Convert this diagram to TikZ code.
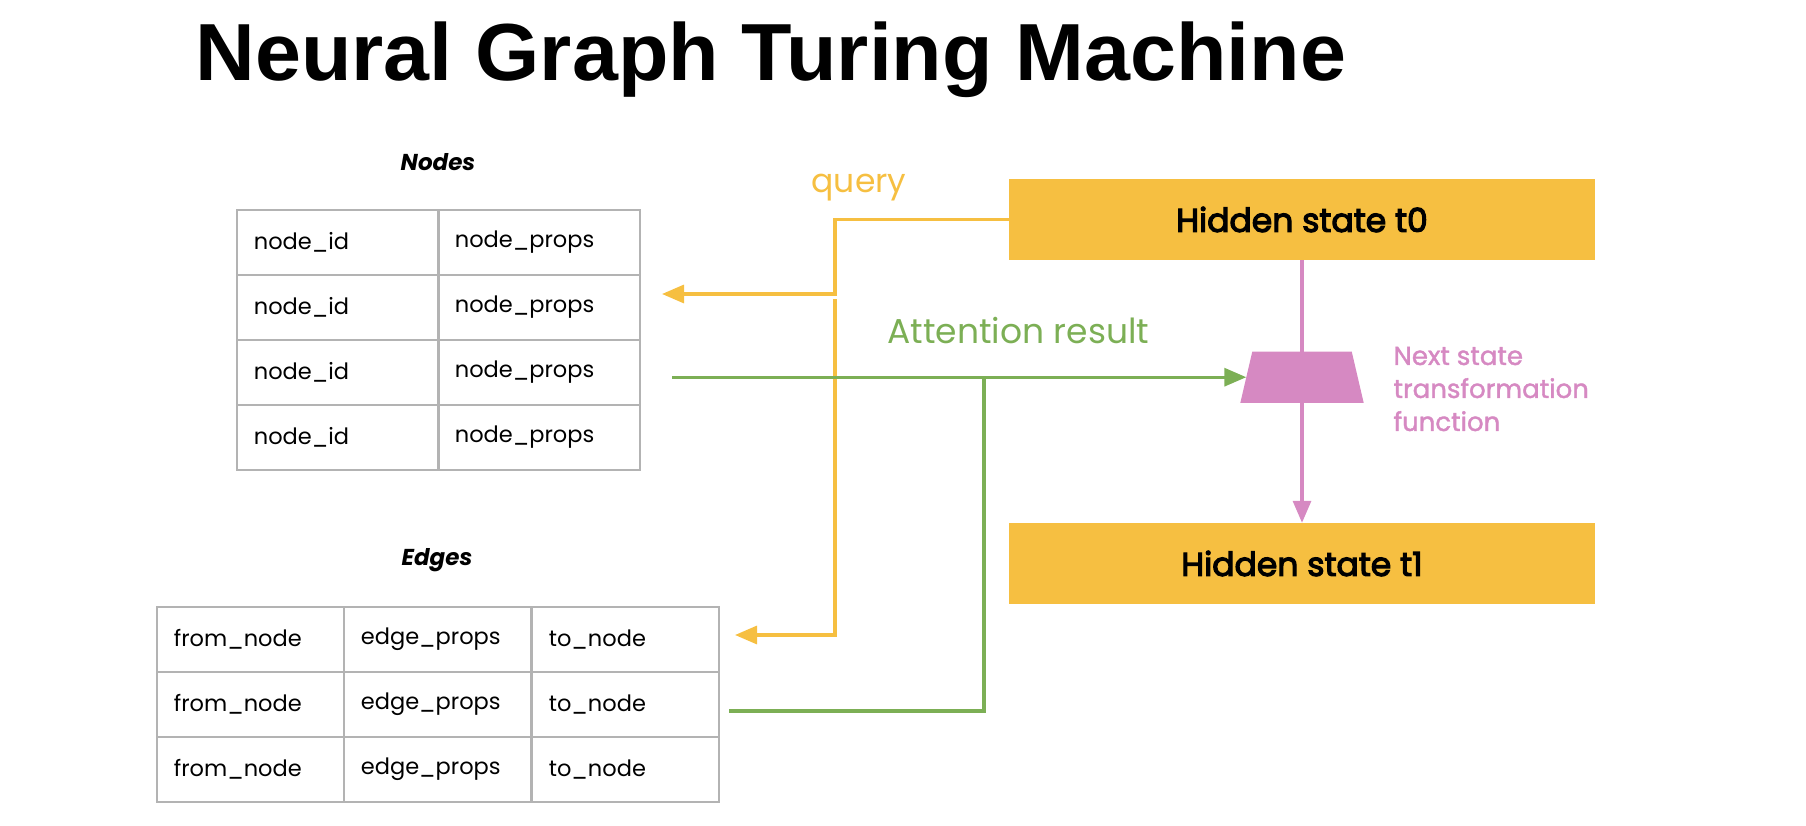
\documentclass[tikz,border=0pt]{standalone}
\usepackage{fontspec}
\setmainfont{Poppins}
\newfontfamily\titlefont[FakeStretch=1.02]{Liberation Sans}
\newfontfamily\semibold[FakeBold=3.5]{Poppins}
\newfontfamily\medium[FakeBold=1.5]{Poppins}
\usetikzlibrary{arrows.meta,calc}
\definecolor{qyellow}{HTML}{F6BF41}
\definecolor{agreen}{HTML}{7CAF55}
\definecolor{fpink}{HTML}{D689C2}
\definecolor{tgray}{HTML}{B3B3B3}
\begin{document}
\begin{tikzpicture}[x=1pt,y=-1pt,
  cellA/.style={draw=tgray,line width=1.8pt,minimum height=65pt,inner xsep=17pt,inner ysep=0pt,
    text width=168pt,align=left,anchor=north west,font=\fontsize{22.5}{26}\selectfont},
  cellB/.style={draw=tgray,line width=1.8pt,minimum height=65pt,inner xsep=17pt,inner ysep=0pt,
    text width=153pt,align=left,anchor=north west,font=\fontsize{22.5}{26}\selectfont},
  tabtitle/.style={font=\fontsize{23}{27}\selectfont\bfseries\itshape},
  hidden/.style={fill=qyellow,minimum width=586pt,minimum height=81pt,inner sep=0pt,
    font=\semibold\fontsize{33}{38}\selectfont},
  fnbox/.style={minimum width=111pt,minimum height=51pt,inner sep=0pt},
  yline/.style={draw=qyellow,line width=3.2pt},
  gline/.style={draw=agreen,line width=3.2pt},
  pline/.style={draw=fpink,line width=3.2pt},
  tip/.style={-{Triangle[length=22pt,width=18pt]}}
]
\useasboundingbox (0,0) rectangle (1806,826);

% title
\node[anchor=base,font=\titlefont\bfseries\fontsize{81}{90}\selectfont] (title) at (771,81) {Neural Graph Turing Machine};

% nodes table
\node[tabtitle] (nodestitle) at (438,162) {Nodes};
\foreach \r in {1,...,4}{
  \node[cellA] (n\r1) at (236,{209+65*(\r-1)}) {node\_id};
  \node[cellA] (n\r2) at (437,{209+65*(\r-1)}) {node\_props};
}

% edges table
\node[tabtitle] (edgestitle) at (437,560) {Edges};
\foreach \r in {1,...,3}{
  \node[cellB] (e\r1) at (156,{606+65*(\r-1)}) {from\_node};
  \node[cellB] (e\r2) at (343,{606+65*(\r-1)}) {edge\_props};
  \node[cellB] (e\r3) at (531,{606+65*(\r-1)}) {to\_node};
}

% hidden states
\node[hidden] (t0) at (1302,219.5) {Hidden state t0};
\node[hidden] (t1) at (1302,563.5) {Hidden state t1};

% transformation function (trapezoid)
\node[fnbox] (fn) at (1302,377.2) {};
\fill[fpink] ($(fn.north west)+(6,0)$) -- ($(fn.north east)+(-6,0)$)
  -- ($(fn.south east)+(6,0)$) -- ($(fn.south west)+(-6,0)$) -- cycle;
\node[anchor=west,align=left,text=fpink,font=\medium\fontsize{26}{33}\selectfont] (fnlabel) at (1390,389)
  {Next state\\transformation\\function};

% labels
\node[anchor=base,text=qyellow,font=\fontsize{33}{38}\selectfont] (qlabel) at (859,193) {query};
\node[anchor=base west,text=agreen,font=\fontsize{34.5}{40}\selectfont] (alabel) at (884,343) {Attention result};

% coordinates
\coordinate (qbend) at (835,294);
\coordinate (qnodes) at (662,294);
\coordinate (qsplit) at (835,299);
\coordinate (qedgebend) at (835,635);
\coordinate (qedges) at (735,635);
\coordinate (gstart) at (672,377.2);
\coordinate (gedge) at (729,711);
\coordinate (gbend) at (984,711);
\coordinate (gjoin) at (984,377.2);

% query connectors
\draw[yline,tip] (t0.west) -| (qbend) -- (qnodes);
\draw[yline,tip] (qsplit) -- (qedgebend) -- (qedges);

% attention connectors
\draw[gline,tip] (gstart) -- (fn.west);
\draw[gline] (gedge) -- (gbend) -- (gjoin);

% pink connectors
\draw[pline] (t0.south) -- (fn.north);
\draw[pline,tip] (fn.south) -- (t1.north);
\end{tikzpicture}
\end{document}
